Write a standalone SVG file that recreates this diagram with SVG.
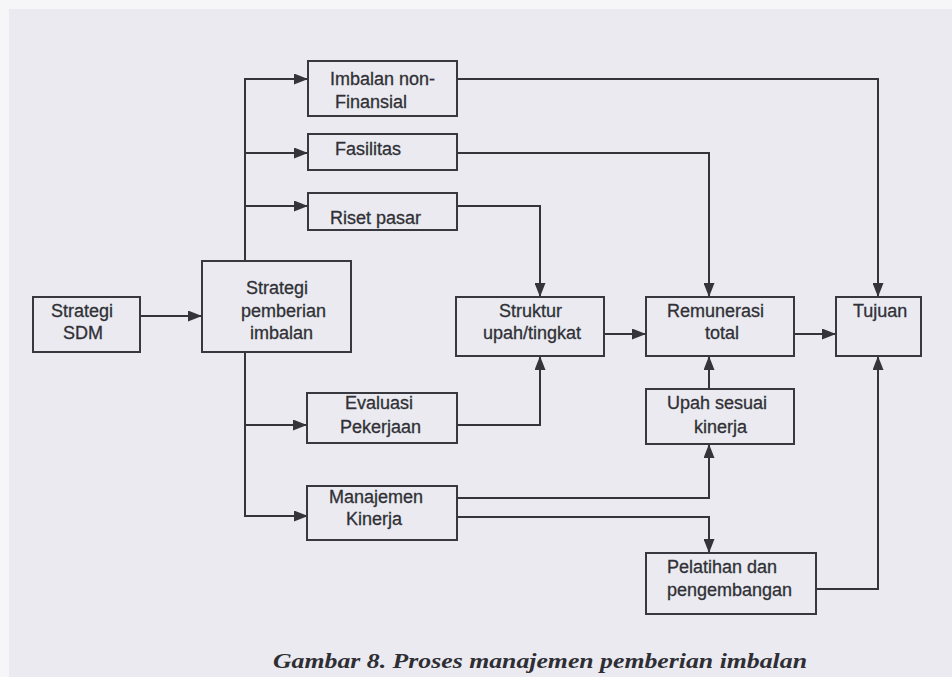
<svg xmlns="http://www.w3.org/2000/svg" width="952" height="677" viewBox="0 0 952 677">
<defs>
<marker id="ah" markerWidth="14" markerHeight="11" refX="14" refY="5.5" orient="auto" markerUnits="userSpaceOnUse">
<path d="M0,0 L14,5.5 L0,11 Z" fill="#34343a"/>
</marker>
</defs>
<style>
.box{fill:none;stroke:#383840;stroke-width:2}
.t{font-family:"Liberation Sans",Arial,sans-serif;font-size:18px;fill:#303036;stroke:#303036;stroke-width:0.3}
.c{fill:none;stroke:#34343a;stroke-width:2;marker-end:url(#ah)}
.cap{font-family:"Liberation Serif","Times New Roman",serif;font-size:22px;font-weight:bold;font-style:italic;fill:#2e2e34}
</style>
<rect x="0" y="0" width="952" height="677" fill="#f6f6f9"/>
<rect x="9" y="9" width="943" height="668" fill="#eaeaf0"/>
<g id="connectors">
<path class="c" d="M140,316 L202,316"/>
<path class="c" d="M245,261 L245,79 L308,79"/>
<path class="c" d="M245,153 L308,153"/>
<path class="c" d="M245,206 L308,206"/>
<path class="c" d="M245,352 L245,516 L308,516"/>
<path class="c" d="M245,425 L307,425"/>
<path class="c" d="M457,79 L878,79 L878,297"/>
<path class="c" d="M457,153 L709,153 L709,297"/>
<path class="c" d="M457,206 L540,206 L540,297"/>
<path class="c" d="M457,425 L540,425 L540,356"/>
<path class="c" d="M604,334 L646,334"/>
<path class="c" d="M794,334 L836,334"/>
<path class="c" d="M709,389 L709,356"/>
<path class="c" d="M457,498 L709,498 L709,444"/>
<path class="c" d="M457,517 L709,517 L709,553"/>
<path class="c" d="M816,589 L878,589 L878,356"/>
</g>
<g id="strategi-sdm">
<rect class="box" x="33" y="297" width="107" height="55"/>
<text class="t" x="51" y="317">Strategi</text>
<text class="t" x="63" y="339">SDM</text>
</g>
<g id="strategi-pemberian">
<rect class="box" x="202" y="261" width="149" height="91"/>
<text class="t" x="246" y="294">Strategi</text>
<text class="t" x="241" y="317">pemberian</text>
<text class="t" x="250" y="339">imbalan</text>
</g>
<g id="imbalan-non">
<rect class="box" x="308" y="61" width="149" height="55"/>
<text class="t" x="330" y="85">Imbalan non-</text>
<text class="t" x="335" y="108">Finansial</text>
</g>
<g id="fasilitas">
<rect class="box" x="308" y="134" width="149" height="36"/>
<text class="t" x="335" y="155">Fasilitas</text>
</g>
<g id="riset-pasar">
<rect class="box" x="308" y="193" width="149" height="37"/>
<text class="t" x="330" y="224">Riset pasar</text>
</g>
<g id="evaluasi">
<rect class="box" x="307" y="393" width="150" height="50"/>
<text class="t" x="345" y="409">Evaluasi</text>
<text class="t" x="340" y="433">Pekerjaan</text>
</g>
<g id="manajemen">
<rect class="box" x="307" y="486" width="150" height="54"/>
<text class="t" x="329" y="503">Manajemen</text>
<text class="t" x="346" y="525">Kinerja</text>
</g>
<g id="struktur">
<rect class="box" x="456" y="297" width="148" height="59"/>
<text class="t" x="499" y="317">Struktur</text>
<text class="t" x="483" y="339">upah/tingkat</text>
</g>
<g id="remunerasi">
<rect class="box" x="646" y="297" width="148" height="59"/>
<text class="t" x="667" y="317">Remunerasi</text>
<text class="t" x="705" y="339">total</text>
</g>
<g id="tujuan">
<rect class="box" x="836" y="297" width="85" height="59"/>
<text class="t" x="853" y="317">Tujuan</text>
</g>
<g id="upah">
<rect class="box" x="646" y="389" width="148" height="55"/>
<text class="t" x="667" y="409">Upah sesuai</text>
<text class="t" x="694" y="433">kinerja</text>
</g>
<g id="pelatihan">
<rect class="box" x="646" y="553" width="170" height="61"/>
<text class="t" x="667" y="573">Pelatihan dan</text>
<text class="t" x="667" y="596">pengembangan</text>
</g>
<text class="cap" x="273" y="668" textLength="534" lengthAdjust="spacingAndGlyphs">Gambar 8. Proses manajemen pemberian imbalan</text>
</svg>
